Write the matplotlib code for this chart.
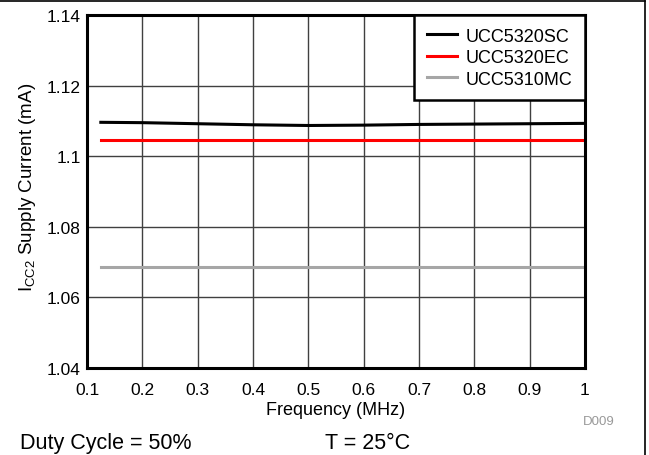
import matplotlib
matplotlib.use("Agg")
import matplotlib.pyplot as plt
from matplotlib.lines import Line2D

plt.rcParams['font.family'] = ['Liberation Sans', 'DejaVu Sans']
plt.rcParams['mathtext.fontset'] = 'custom'
plt.rcParams['mathtext.rm'] = 'Liberation Sans'

# data
freq = [0.125, 0.2, 0.3, 0.4, 0.5, 0.6, 0.7, 0.8, 0.9, 1.0]
ucc5320sc = [1.1096, 1.1095, 1.1092, 1.1089, 1.1087, 1.1088, 1.1090, 1.1091, 1.1092, 1.1093]
ucc5320ec = [1.1045, 1.1045, 1.1045, 1.1045, 1.1045, 1.1045, 1.1045, 1.1045, 1.1045, 1.1045]
ucc5310mc = [1.0685, 1.0685, 1.0685, 1.0685, 1.0685, 1.0685, 1.0685, 1.0685, 1.0685, 1.0685]
series_names = ['UCC5320SC', 'UCC5320EC', 'UCC5310MC']
xticks = [0.1, 0.2, 0.3, 0.4, 0.5, 0.6, 0.7, 0.8, 0.9, 1]
yticks = [1.04, 1.06, 1.08, 1.1, 1.12, 1.14]

fig = plt.figure(figsize=(6.49, 4.56), dpi=100)
ax = fig.add_axes([87/649, 1 - 369/456, 498/649, 353/456])

ax.plot(freq, ucc5320sc, color='black', lw=2.2, label=series_names[0])
ax.plot(freq, ucc5320ec, color='#ff0000', lw=2.2, label=series_names[1])
ax.plot(freq, ucc5310mc, color='#a6a6a6', lw=2.2, label=series_names[2])

ax.set_xlim(0.1, 1)
ax.set_ylim(1.04, 1.14)
ax.set_xticks(xticks)
ax.set_xticklabels(['%g' % t for t in xticks])
ax.set_yticks(yticks)
ax.set_yticklabels(['%g' % t for t in yticks])
ax.grid(True, color='#404040', lw=1.0)
ax.set_axisbelow(True)
ax.tick_params(length=0, labelsize=12.5)
ax.tick_params(axis='x', pad=10)
ax.tick_params(axis='y', pad=4.5)
for s in ax.spines.values():
    s.set_linewidth(2.2)
    s.set_color('black')

ax.set_xlabel('Frequency (MHz)', fontsize=13, labelpad=3)
ax.set_ylabel(r'I$_{\mathregular{CC2}}$ Supply Current (mA)', fontsize=13.5, labelpad=6)
ax.yaxis.label.set_y(0.515)

leg = ax.legend(loc='upper right', fontsize=13, frameon=True, fancybox=False,
                borderaxespad=0, handlelength=1.7, labelspacing=0.25,
                borderpad=0.7, handletextpad=0.45)
leg.get_frame().set_edgecolor('black')
leg.get_frame().set_linewidth(1.8)
leg.get_frame().set_alpha(1)

fig.text(615/649, 1 - 422/456, 'D009', color='#999999', fontsize=9.5, ha='right', va='center')
fig.text(20/649, 1 - 444/456, 'Duty Cycle = 50%', fontsize=15.5, ha='left', va='center')
fig.text(325/649, 1 - 444/456, 'T = 25°C', fontsize=15.5, ha='left', va='center')

# outer frame, top and right only
fig.add_artist(Line2D([0, 645/649], [1 - 1.5/456, 1 - 1.5/456], color='black', lw=1.2, transform=fig.transFigure))
fig.add_artist(Line2D([645/649, 645/649], [0, 1 - 1.5/456], color='black', lw=1.2, transform=fig.transFigure))

fig.savefig('out.png', dpi=100)
